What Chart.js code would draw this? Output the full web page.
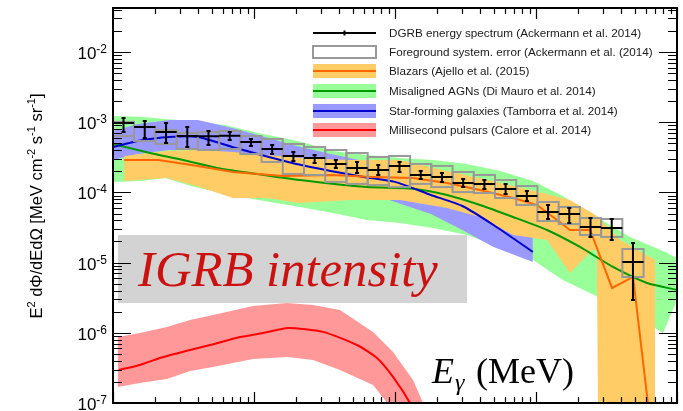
<!DOCTYPE html>
<html>
<head>
<meta charset="utf-8">
<title>IGRB intensity</title>
<script src="https://cdn.jsdelivr.net/npm/chart.js@4.4.1/dist/chart.umd.min.js"></script>
<style>
  html, body { margin: 0; padding: 0; background: #fff; }
  canvas { display: block; }
</style>
</head>
<body>
<canvas id="igrbChart" width="683" height="411"></canvas>
<script>
// DGRB energy bins (MeV) and measured intensity, E^2 dPhi/dE dOmega in MeV cm^-2 s^-1 sr^-1
const binEdges = [100, 141, 200, 283, 400, 566, 800, 1131, 1600, 2263, 3200, 4525, 6400, 9051,
  12800, 18102, 25600, 36204, 51200, 72408, 102400, 144816, 204800, 289631, 409600, 579262];
const dgrbFlux = [9.75e-4, 8.55e-4, 7.25e-4, 6.35e-4, 6.3e-4, 6.4e-4, 5.22e-4, 4.15e-4, 3.30e-4,
  3.09e-4, 2.54e-4, 2.23e-4, 2.08e-4, 2.38e-4, 1.77e-4, 1.66e-4, 1.36e-4, 1.32e-4, 1.12e-4,
  8.89e-5, 5.26e-5, 4.92e-5, 3.21e-5, 3.11e-5, 1.02e-5];
const dgrbErrHigh = [1.15e-3, 1.04e-3, 9.74e-4, 8.55e-4, 7.50e-4, 7.24e-4, 5.77e-4, 4.73e-4, 3.76e-4,
  3.41e-4, 2.90e-4, 2.71e-4, 2.45e-4, 2.71e-4, 2.02e-4, 1.89e-4, 1.55e-4, 1.50e-4, 1.32e-4,
  1.05e-4, 6.62e-5, 6.00e-5, 4.31e-5, 4.18e-5, 1.90e-5];
const dgrbErrLow = [7.24e-4, 5.96e-4, 5.06e-4, 4.44e-4, 4.73e-4, 5.57e-4, 4.58e-4, 3.52e-4, 2.80e-4,
  2.62e-4, 2.23e-4, 1.89e-4, 1.77e-4, 1.95e-4, 1.55e-4, 1.41e-4, 1.19e-4, 1.12e-4, 9.48e-5,
  7.53e-5, 4.18e-5, 3.66e-5, 2.32e-5, 2.10e-5, 2.93e-6];
// foreground systematic error boxes
const fgSysHigh = [1.01e-3, 8.55e-4, 7.74e-4, 7.01e-4, 7.24e-4, 7.50e-4, 6.35e-4, 5.77e-4, 4.89e-4,
  4.44e-4, 4.02e-4, 3.64e-4, 3.19e-4, 3.30e-4, 2.54e-4, 2.38e-4, 1.95e-4, 1.77e-4, 1.50e-4,
  1.23e-4, 7.30e-5, 6.19e-5, 4.31e-5, 4.18e-5, 1.56e-5];
const fgSysLow = [6.35e-4, 5.40e-4, 4.89e-4, 4.15e-4, 4.02e-4, 4.15e-4, 3.52e-4, 2.71e-4, 1.83e-4,
  1.77e-4, 1.41e-4, 1.32e-4, 1.27e-4, 1.19e-4, 1.32e-4, 1.19e-4, 1.01e-4, 9.8e-5, 8.32e-5,
  6.62e-5, 3.91e-5, 3.55e-5, 2.47e-5, 2.32e-5, 6.23e-6];

// Blazars (Ajello et al. 2015)
const blazarBandE = [120, 240, 410, 710, 1240, 2100, 4800, 10800, 23400, 40000, 69000, 120000,
  174000, 250000, 270000, 276000, 395000, 700000];
const blazarHigh = [3.30e-4, 3.89e-4, 4.02e-4, 3.76e-4, 3.41e-4, 3.09e-4, 2.90e-4, 2.90e-4, 2.02e-4,
  1.60e-4, 1.23e-4, 9.49e-5, 7.79e-5, 5.09e-5, 4.61e-5, 4.46e-5, 2.10e-5, 1.09e-5];
const blazarLow = [1.45e-4, 1.60e-4, 1.19e-4, 8.32e-5, 8.32e-5, 7.06e-5, 7.79e-5, 7.79e-5, 6.00e-5,
  4.46e-5, 2.47e-5, 2.10e-5, 7.11e-6, 1.51e-5, 1.51e-5, 4e-8, 4e-8, 4e-8];
const blazarLineE = [120, 210, 360, 710, 1600, 3600, 6900, 13400, 23400, 40000, 69000, 102000,
  141000, 174000, 242000, 346000, 488000, 655000];
const blazarLine = [2.90e-4, 2.90e-4, 2.46e-4, 1.95e-4, 1.71e-4, 1.77e-4, 1.66e-4, 1.60e-4, 1.36e-4,
  1.08e-4, 8.32e-5, 6.58e-5, 4.04e-5, 2.91e-5, 2.91e-5, 4.35e-6, 6.24e-6, 4.1e-8];

// Misaligned AGNs (Di Mauro et al. 2014)
const magnBandE = [100, 158, 234, 357, 623, 1070, 2120, 3630, 6330, 10850, 18600, 32400, 55600,
  95300, 155000, 241500, 464000, 796000, 1000000];
const magnHigh = [1.225e-3, 1.19e-3, 1.11e-3, 1.04e-3, 9.12e-4, 7.02e-4, 5.29e-4, 3.89e-4, 3.41e-4,
  3.09e-4, 2.90e-4, 2.54e-4, 2.02e-4, 1.45e-4, 8.89e-5, 5.09e-5, 2.32e-5, 1.46e-5, 1.16e-5];
const magnLow = [1.41e-4, 1.45e-4, 1.60e-4, 1.23e-4, 9.49e-5, 7.79e-5, 6.19e-5, 5.09e-5, 4.04e-5,
  3.66e-5, 3.11e-5, 2.47e-5, 1.67e-5, 1.09e-5, 5.65e-6, 3.69e-6, 1.91e-6, 9.93e-7, 2.93e-6];
const magnLineE = [100, 183, 314, 547, 937, 2120, 6330, 13420, 23390, 40090, 68700, 119700, 205000,
  351600, 612800, 1000000];
const magnLine = [4.89e-4, 3.64e-4, 2.90e-4, 2.23e-4, 1.89e-4, 1.50e-4, 1.19e-4, 1.13e-4, 9.18e-5,
  6.61e-5, 4.46e-5, 2.91e-5, 1.67e-5, 8.66e-6, 5.12e-6, 4.07e-6];

// Star-forming galaxies (Tamborra et al. 2014)
const sfgE = [100, 150, 250, 400, 700, 1200, 2000, 3500, 6000, 10000, 18000, 30000, 50000, 95000];
const sfgLine = [4.44e-4, 5.40e-4, 6.15e-4, 6.15e-4, 4.44e-4, 3.30e-4, 2.54e-4, 2.02e-4, 1.66e-4,
  1.41e-4, 9.18e-5, 6.40e-5, 3.43e-5, 1.42e-5];
const sfgHigh = [7.50e-4, 9.43e-4, 1.07e-3, 1.07e-3, 8.27e-4, 6.15e-4, 4.58e-4, 3.52e-4, 2.80e-4,
  2.30e-4, 1.50e-4, 1.01e-4, 5.61e-5, 2.32e-5];
const sfgLow = [2.90e-4, 3.52e-4, 4.02e-4, 4.02e-4, 3.09e-4, 2.23e-4, 1.71e-4, 1.32e-4, 1.05e-4,
  7.30e-5, 4.92e-5, 2.91e-5, 1.67e-5, 1.02e-5];

// Millisecond pulsars (Calore et al. 2014)
const mspBandE = [108, 155, 241, 352, 512, 984, 1714, 2620, 4073, 6983, 9680, 13420, 15800];
const mspHigh = [8.71e-7, 9.93e-7, 1.21e-6, 1.52e-6, 1.79e-6, 2.41e-6, 2.66e-6, 2.49e-6, 2.11e-6,
  1.03e-6, 5.33e-7, 2.13e-7, 1.0e-7];
const mspLow = [1.69e-7, 1.93e-7, 2.20e-7, 2.86e-7, 3.26e-7, 4.24e-7, 4.52e-7, 4.10e-7, 2.95e-7,
  1.80e-7, 7.95e-8, 2.97e-8, 2.14e-8];
const mspLineE = [110, 155, 215, 352, 487, 796, 1158, 1742, 3086, 5375, 7453, 9680, 12770, 15040];
const mspLine = [2.95e-7, 3.48e-7, 4.37e-7, 5.69e-7, 6.70e-7, 8.71e-7, 9.93e-7, 1.17e-6, 1.03e-6,
  6.70e-7, 4.37e-7, 2.35e-7, 1.0e-7, 4.86e-8];

const yTickExponents = [-2, -3, -4, -5, -6, -7];
const legendLabels = [
  'DGRB energy spectrum (Ackermann et al. 2014)',
  'Foreground system. error (Ackermann et al. (2014)',
  'Blazars (Ajello et al. (2015)',
  'Misaligned AGNs (Di Mauro et al. 2014)',
  'Star-forming galaxies (Tamborra et al. 2014)',
  'Millisecond pulsars (Calore et al. 2014)'
];

// colours
const C = {
  blazarBand: '#ffcc66', blazarLine: '#ff6600',
  magnBand: '#99ff99', magnLine: '#009900',
  sfgBand: '#9999ff', sfgLine: '#0000cc',
  mspBand: '#ff9999', mspLine: '#ff0000',
  sys: '#999999'
};
const SANS = '"Liberation Sans", Arial, Helvetica, sans-serif';
const SERIF = '"Liberation Serif", "Times New Roman", serif';

function pts(xs, ys) {
  return xs.map((x, i) => ({ x: x, y: ys[i] }));
}
const noLine = 'rgba(0,0,0,0)';

function band(label, xs, hi, lo, color, order) {
  return [
    { label: label, data: pts(xs, hi), fill: '+1', backgroundColor: color, borderColor: noLine,
      borderWidth: 0, pointRadius: 0, order: order, clip: 0 },
    { label: label + ' low', data: pts(xs, lo), fill: false, borderColor: noLine,
      borderWidth: 0, pointRadius: 0, order: order, clip: 0 }
  ];
}
function curve(label, xs, ys, color, order, tension) {
  return { label: label, data: pts(xs, ys), fill: false, borderColor: color, borderWidth: 2,
    pointRadius: 0, tension: tension, order: order, clip: 0 };
}

const dgrbCenters = dgrbFlux.map((v, i) => Math.sqrt(binEdges[i] * binEdges[i + 1]));

const datasets = [].concat(
  band('Misaligned AGNs', magnBandE, magnHigh, magnLow, C.magnBand, 10),
  band('Star-forming galaxies', sfgE, sfgHigh, sfgLow, C.sfgBand, 9),
  band('Blazars', blazarBandE, blazarHigh, blazarLow, C.blazarBand, 8),
  band('Millisecond pulsars', mspBandE, mspHigh, mspLow, C.mspBand, 7),
  [
    curve('Misaligned AGNs', magnLineE, magnLine, C.magnLine, 6, 0.2),
    curve('Star-forming galaxies', sfgE, sfgLine, C.sfgLine, 5, 0.2),
    curve('Blazars', blazarLineE, blazarLine, C.blazarLine, 4, 0),
    curve('Millisecond pulsars', mspLineE, mspLine, C.mspLine, 3, 0.2),
    { label: 'DGRB', data: pts(dgrbCenters, dgrbFlux), showLine: false, pointRadius: 0, order: 1 }
  ]
);

function drawSup(ctx, parts, x, y, big, small, raise) {
  // parts: [text, isSup]
  let cx = x;
  parts.forEach(p => {
    ctx.font = (p[1] ? small : big) + 'px ' + SANS;
    ctx.fillText(p[0], cx, p[1] ? y - raise : y);
    cx += ctx.measureText(p[0]).width;
  });
  return cx - x;
}
function supWidth(ctx, parts, big, small) {
  let w = 0;
  parts.forEach(p => {
    ctx.font = (p[1] ? small : big) + 'px ' + SANS;
    w += ctx.measureText(p[0]).width;
  });
  return w;
}

const rootStyle = {
  id: 'rootStyle',
  afterDatasetsDraw(chart) {
    const ctx = chart.ctx, a = chart.chartArea;
    const xs = chart.scales.x, ys = chart.scales.y;
    const px = v => xs.getPixelForValue(v), py = v => ys.getPixelForValue(v);
    ctx.save();
    ctx.beginPath();
    ctx.rect(a.left, a.top, a.right - a.left, a.bottom - a.top);
    ctx.clip();

    // "IGRB intensity" label box
    ctx.fillStyle = '#d3d3d3';
    ctx.fillRect(118, 235, 349, 68);
    ctx.fillStyle = '#cc1111';
    ctx.font = 'italic 48px ' + SERIF;
    const tw = ctx.measureText('IGRB intensity').width;
    const fs = 48 * 300 / tw;
    ctx.font = 'italic ' + fs.toFixed(1) + 'px ' + SERIF;
    ctx.textBaseline = 'alphabetic';
    ctx.textAlign = 'left';
    ctx.fillText('IGRB intensity', 138, 286);

    // foreground systematic boxes
    ctx.strokeStyle = C.sys;
    ctx.lineWidth = 2;
    for (let i = 0; i < dgrbFlux.length; i++) {
      const x1 = px(binEdges[i]), x2 = px(binEdges[i + 1]);
      const y1 = py(fgSysHigh[i]), y2 = py(fgSysLow[i]);
      ctx.strokeRect(x1, y1, x2 - x1, y2 - y1);
    }
    // DGRB points
    ctx.strokeStyle = '#000';
    ctx.lineWidth = 2;
    for (let i = 0; i < dgrbFlux.length; i++) {
      const x1 = px(binEdges[i]), x2 = px(binEdges[i + 1]), xc = px(dgrbCenters[i]);
      const y = py(dgrbFlux[i]), yh = py(dgrbErrHigh[i]), yl = py(dgrbErrLow[i]);
      ctx.beginPath();
      ctx.moveTo(x1, y); ctx.lineTo(x2, y);
      ctx.moveTo(xc, yh); ctx.lineTo(xc, yl);
      ctx.moveTo(xc - 2, yh); ctx.lineTo(xc + 2, yh);
      ctx.moveTo(xc - 2, yl); ctx.lineTo(xc + 2, yl);
      ctx.stroke();
    }

    // E_gamma (MeV)
    ctx.fillStyle = '#000';
    ctx.font = 'italic 36px ' + SERIF;
    ctx.fillText('E', 432, 383);
    const ew = ctx.measureText('E').width;
    ctx.font = 'italic 24px ' + SERIF;
    ctx.fillText('\u03B3', 432 + ew + 1, 390);
    ctx.font = '36px ' + SERIF;
    ctx.fillText('(MeV)', 476, 383);
    ctx.restore();
  },
  afterDraw(chart) {
    const ctx = chart.ctx, a = chart.chartArea;
    const xs = chart.scales.x, ys = chart.scales.y;
    const px = v => xs.getPixelForValue(v), py = v => ys.getPixelForValue(v);
    ctx.save();
    ctx.strokeStyle = '#000';
    ctx.fillStyle = '#000';

    // x ticks, bottom and top
    ctx.lineWidth = 1.2;
    ctx.beginPath();
    for (let d = 100; d <= 1e6; d *= 10) {
      for (let m = 1; m <= 9; m++) {
        const v = m * d;
        if (v > 1e6) break;
        const x = Math.round(px(v)) + 0.5;
        const len = m === 1 ? 11 : 6;
        ctx.moveTo(x, a.bottom); ctx.lineTo(x, a.bottom - len);
        ctx.moveTo(x, a.top); ctx.lineTo(x, a.top + len);
      }
    }
    // y ticks, left and right
    for (let e = -7; e <= -1; e++) {
      for (let m = 1; m <= 9; m++) {
        const v = m * Math.pow(10, e);
        if (v > ys.max) break;
        const y = Math.round(py(v)) + 0.5;
        const len = m === 1 ? 18 : 9;
        ctx.moveTo(a.left, y); ctx.lineTo(a.left + len, y);
        ctx.moveTo(a.right, y); ctx.lineTo(a.right - len, y);
      }
    }
    ctx.stroke();

    // frame
    ctx.lineWidth = 2;
    ctx.strokeRect(a.left, a.top, a.right - a.left, a.bottom - a.top);

    // y tick labels 10^n
    ctx.textAlign = 'left';
    ctx.textBaseline = 'alphabetic';
    yTickExponents.forEach(e => {
      const y = py(Math.pow(10, e));
      const parts = [['10', false], [String(e), true]];
      const w = supWidth(ctx, parts, 17, 12);
      drawSup(ctx, parts, 107 - w, y + 7, 17, 12, 6);
    });

    // y axis title
    const tparts = [['E', false], ['2', true], [' d\u03A6/dEd\u03A9 [MeV cm', false], ['-2', true],
      [' s', false], ['-1', true], [' sr', false], ['-1', true], [']', false]];
    const tw = supWidth(ctx, tparts, 16.5, 11);
    ctx.save();
    ctx.translate(42, 206);
    ctx.rotate(-Math.PI / 2);
    drawSup(ctx, tparts, -tw / 2, 0, 16.5, 11, 7);
    ctx.restore();

    // legend
    const rows = [33, 52, 71, 91, 111, 130];
    const x1 = 313, x2 = 376;
    ctx.lineWidth = 2;
    // DGRB
    ctx.strokeStyle = '#000';
    ctx.beginPath();
    ctx.moveTo(x1, rows[0]); ctx.lineTo(x2, rows[0]);
    ctx.moveTo((x1 + x2) / 2, rows[0] - 2.5); ctx.lineTo((x1 + x2) / 2, rows[0] + 2.5);
    ctx.stroke();
    // foreground box
    ctx.strokeStyle = C.sys;
    ctx.strokeRect(x1, rows[1] - 6, x2 - x1, 12);
    // bands
    [[C.blazarBand, C.blazarLine], [C.magnBand, C.magnLine], [C.sfgBand, C.sfgLine], [C.mspBand, C.mspLine]]
      .forEach((c, k) => {
        const y = rows[k + 2];
        ctx.fillStyle = c[0];
        ctx.fillRect(x1, y - 7, x2 - x1, 14);
        ctx.strokeStyle = c[1];
        ctx.beginPath();
        ctx.moveTo(x1, y); ctx.lineTo(x2, y);
        ctx.stroke();
      });
    ctx.fillStyle = '#1a1a1a';
    ctx.font = '11.7px ' + SANS;
    ctx.textBaseline = 'middle';
    legendLabels.forEach((t, k) => ctx.fillText(t, 389, rows[k] + 0.5));
    ctx.restore();
  }
};

const chart = new Chart(document.getElementById('igrbChart'), {
  type: 'line',
  data: { datasets: datasets },
  options: {
    responsive: false,
    animation: false,
    devicePixelRatio: 1,
    layout: { padding: { left: 113, right: 6, top: 8, bottom: 8 } },
    plugins: { legend: { display: false }, tooltip: { enabled: false } },
    scales: {
      x: { type: 'logarithmic', min: 100, max: 1e6, display: false },
      y: { type: 'logarithmic', min: 1e-7, max: 0.0423, display: false }
    }
  },
  plugins: [rootStyle]
});
</script>
</body>
</html>
